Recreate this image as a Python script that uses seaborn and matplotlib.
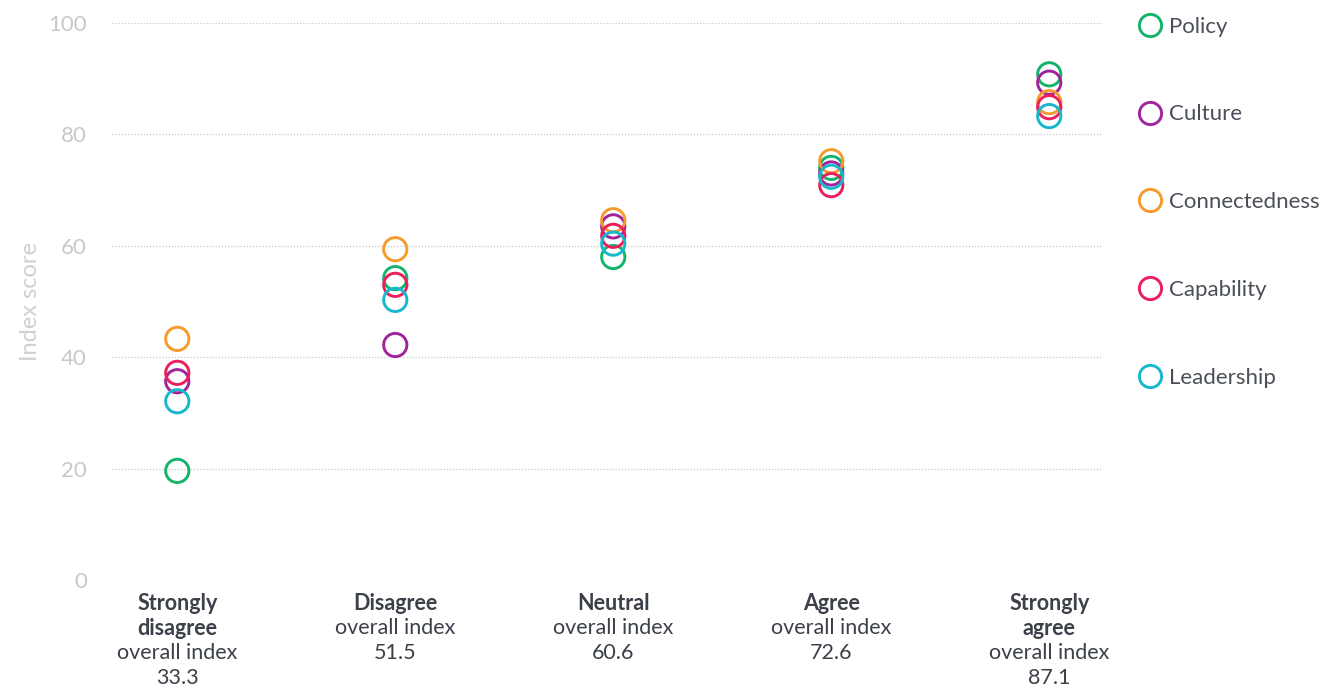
import pandas as pd
import seaborn as sns
import matplotlib.pyplot as plt
from matplotlib.lines import Line2D

# response categories and the overall index per category
categories = ["Strongly\ndisagree", "Disagree", "Neutral", "Agree", "Strongly\nagree"]
overall_index = [33.3, 51.5, 60.6, 72.6, 87.1]

# sub-index scores per response category
policy = [19.6, 54.2, 58.0, 74.0, 90.8]
culture = [35.7, 42.2, 63.5, 73.0, 89.3]
connectedness = [43.3, 59.4, 64.6, 75.2, 85.8]
capability = [37.2, 53.0, 61.8, 70.9, 84.9]
leadership = [32.1, 50.3, 60.4, 72.4, 83.3]

series = ["Policy", "Culture", "Connectedness", "Capability", "Leadership"]
colors = ["#14b36b", "#a0249b", "#f79a2e", "#ea1f5b", "#17b8ce"]

rows = []
for name, vals in zip(series, [policy, culture, connectedness, capability, leadership]):
    for i, v in enumerate(vals):
        rows.append([i, v, name])
df = pd.DataFrame(rows, columns=["pos", "score", "index"])

sns.set_theme(style="white")
plt.rcParams["font.family"] = ["Lato", "DejaVu Sans"]

fig = plt.figure(figsize=(13.32, 6.91), dpi=100)
ax = fig.add_axes([0.084, 0.1606, 0.743, 0.806])

for name, col in zip(series, colors):
    sub = df[df["index"] == name]
    sns.scatterplot(data=sub, x="pos", y="score", ax=ax, s=280, marker="o",
                    facecolor="none", edgecolor=col, linewidth=2.1, zorder=3)

ax.set_ylim(0, 100)
ax.set_xlim(-0.3, 4.24)
ax.set_yticks(range(0, 101, 20))
ax.set_xticks([])
ax.set_xlabel("")
ax.set_ylabel("Index score", color="#d0d0d0", fontsize=17, labelpad=5)
ax.tick_params(axis="y", colors="#c8c8c8", labelsize=16, length=0, pad=18)
for yv in range(0, 101, 20):
    ax.axhline(yv, color="#c8c8c8", lw=0.9, ls=(0, (1, 1.5)), zorder=1)
sns.despine(ax=ax, left=True, bottom=True)

# category labels below the axis
for i, (cat, ov) in enumerate(zip(categories, overall_index)):
    lines = [(t, "bold") for t in cat.split("\n")] + [("overall index", "normal"), (f"{ov}", "normal")]
    for k, (txt, wt) in enumerate(lines):
        ax.annotate(txt, xy=(i, 0), xytext=(0, -(23 + 25 * k) * 0.72), textcoords="offset points",
                    ha="center", va="center", fontsize=15.5, fontweight=wt, color="#3c4049",
                    annotation_clip=False)

handles = [Line2D([], [], marker="o", ls="none", markersize=16, markerfacecolor="none",
                  markeredgecolor=c, markeredgewidth=2.1) for c in colors]
leg = fig.legend(handles, series, loc="upper left", bbox_to_anchor=(0.839, 1.005), frameon=False,
                 fontsize=16, labelspacing=3.05, handletextpad=0.3, handlelength=1.1)
for t in leg.get_texts():
    t.set_color("#4a4f58")

fig.savefig("out.png", dpi=100)
